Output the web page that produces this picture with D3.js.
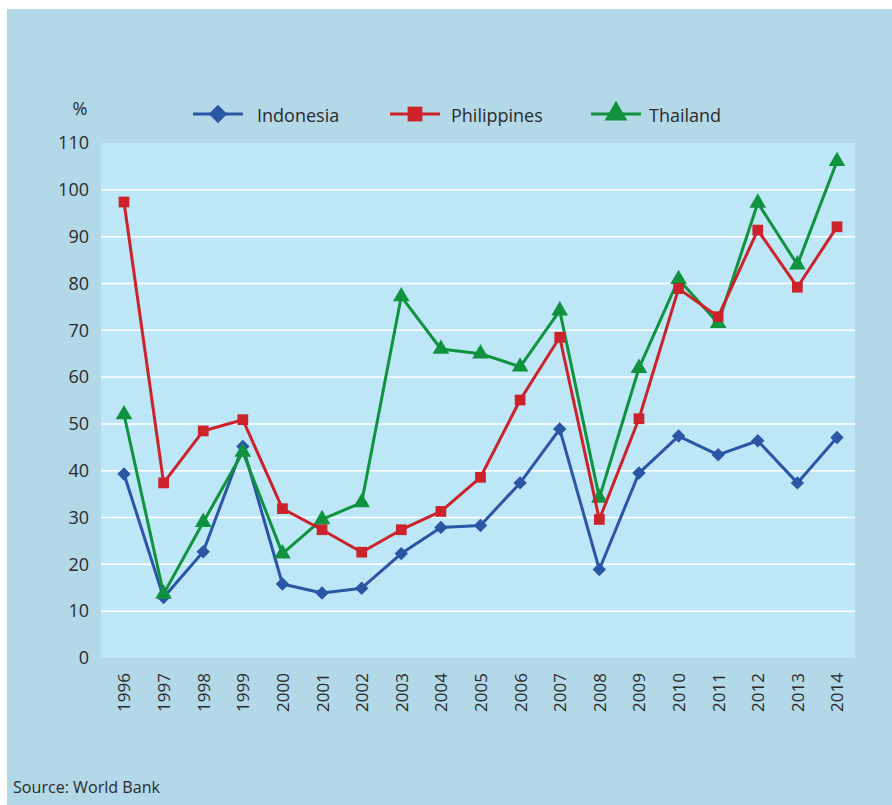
<!DOCTYPE html>
<meta charset="utf-8">
<script src="https://d3js.org/d3.v7.js"></script>
<style>
body { margin: 0; background: white; }
text { font-family: "Open Sans", "Noto Sans", sans-serif; fill: #2b2b2b; }
</style>
<div id="chart"></div>
<script>
var years = ["1996","1997","1998","1999","2000","2001","2002","2003","2004","2005","2006","2007","2008","2009","2010","2011","2012","2013","2014"];
var indonesia = [39.3, 12.9, 22.7, 45.2, 15.8, 13.9, 14.9, 22.3, 27.9, 28.3, 37.4, 48.9, 18.9, 39.5, 47.4, 43.4, 46.4, 37.4, 47.1];
var philippines = [97.4, 37.4, 48.5, 50.9, 31.9, 27.4, 22.6, 27.4, 31.3, 38.6, 55.1, 68.5, 29.6, 51.1, 78.9, 72.9, 91.4, 79.2, 92.1];
var thailand = [52, 13.7, 29, 44, 22.3, 29.6, 33.2, 77.2, 66, 65, 62.2, 74.2, 34.2, 61.9, 80.9, 71.5, 97.2, 84, 106.1];
var yTicks = [0, 10, 20, 30, 40, 50, 60, 70, 80, 90, 100, 110];
var seriesNames = ["Indonesia", "Philippines", "Thailand"];

// marker: diamond = square turned 45 degrees
var series = [
  {name: seriesNames[0], values: indonesia, color: "#2b56a6", symbol: d3.symbolSquare, rot: 45, size: 90},
  {name: seriesNames[1], values: philippines, color: "#cc2229", symbol: d3.symbolSquare, rot: 0, size: 115},
  {name: seriesNames[2], values: thailand, color: "#10923f", symbol: d3.symbolTriangle, rot: 0, size: 120}
];

var width = 892, height = 805;
var svg = d3.select("#chart").append("svg")
  .attr("width", width)
  .attr("height", height);

// outer panel
svg.append("rect")
  .attr("x", 7).attr("y", 9)
  .attr("width", width - 7).attr("height", height - 9)
  .attr("fill", "#b3d8e7");

var plot = {left: 101, right: 855, top: 143, bottom: 658};

svg.append("rect")
  .attr("x", plot.left).attr("y", plot.top)
  .attr("width", plot.right - plot.left).attr("height", plot.bottom - plot.top)
  .attr("fill", "#bde6f7");

var x = d3.scalePoint()
  .domain(years)
  .range([124, 837]);

var y = d3.scaleLinear()
  .domain([0, 110])
  .range([plot.bottom, plot.top]);

// gridlines
svg.append("g")
  .selectAll("line")
  .data(yTicks.filter(d => d > 0 && d < 110))
  .enter()
  .append("line")
    .attr("x1", plot.left).attr("x2", plot.right)
    .attr("y1", d => y(d)).attr("y2", d => y(d))
    .attr("stroke", "white")
    .attr("stroke-width", 1.5);

// y axis labels
var yAxis = svg.append("g")
  .attr("transform", "translate(" + (plot.left - 12) + ",0)")
  .call(d3.axisLeft(y).tickValues(yTicks).tickSize(0).tickPadding(0));
yAxis.select(".domain").remove();
yAxis.selectAll("text")
  .style("font-size", "18px")
  .style("font-family", "'Open Sans', 'Noto Sans', sans-serif")
  .attr("fill", "#2b2b2b");

svg.append("text")
  .attr("x", 80).attr("y", 115)
  .attr("text-anchor", "middle")
  .style("font-size", "18px")
  .text("%");

// x axis labels
var xAxis = svg.append("g")
  .attr("transform", "translate(0," + plot.bottom + ")")
  .call(d3.axisBottom(x).tickSize(0).tickPadding(0));
xAxis.select(".domain").remove();
xAxis.selectAll("text")
  .attr("transform", "rotate(-90)")
  .attr("x", -15)
  .attr("y", 0)
  .attr("dy", "0.35em")
  .attr("text-anchor", "end")
  .style("font-size", "17px")
  .style("font-family", "'Open Sans', 'Noto Sans', sans-serif")
  .attr("fill", "#2b2b2b");

var line = d3.line()
  .x((d, i) => x(years[i]))
  .y(d => y(d));

// draw series: Indonesia first (bottom), then Thailand, Philippines
var drawOrder = [series[0], series[2], series[1]];
drawOrder.forEach(function(s) {
  var g = svg.append("g");
  g.append("path")
    .datum(s.values)
    .attr("d", line)
    .attr("fill", "none")
    .attr("stroke", s.color)
    .attr("stroke-width", 3)
    .attr("stroke-linejoin", "round");
  g.selectAll("path.pt")
    .data(s.values)
    .enter()
    .append("path")
      .attr("class", "pt")
      .attr("d", d3.symbol().type(s.symbol).size(s.size))
      .attr("transform", (d, i) => "translate(" + x(years[i]) + "," + y(d) + ") rotate(" + s.rot + ")")
      .attr("fill", s.color);
});

// legend
var legendX = [193, 390, 591];
series.forEach(function(s, i) {
  var lg = svg.append("g").attr("transform", "translate(" + legendX[i] + ",114)");
  lg.append("line")
    .attr("x1", 0).attr("x2", 50)
    .attr("y1", 0).attr("y2", 0)
    .attr("stroke", s.color)
    .attr("stroke-width", 3);
  lg.append("path")
    .attr("d", d3.symbol().type(s.symbol).size(s.size * 1.9))
    .attr("transform", "translate(25,0) rotate(" + s.rot + ")")
    .attr("fill", s.color);
  lg.append("text")
    .attr("x", i === 0 ? 64 : (i === 1 ? 61 : 58))
    .attr("y", 2)
    .attr("dy", "0.35em")
    .style("font-size", "18px")
    .text(s.name);
});

svg.append("text")
  .attr("x", 13).attr("y", 793)
  .style("font-size", "15.5px")
  .style("font-family", "'Open Sans', sans-serif")
  .attr("textLength", 147)
  .attr("lengthAdjust", "spacingAndGlyphs")
  .text("Source: World Bank");
</script>
